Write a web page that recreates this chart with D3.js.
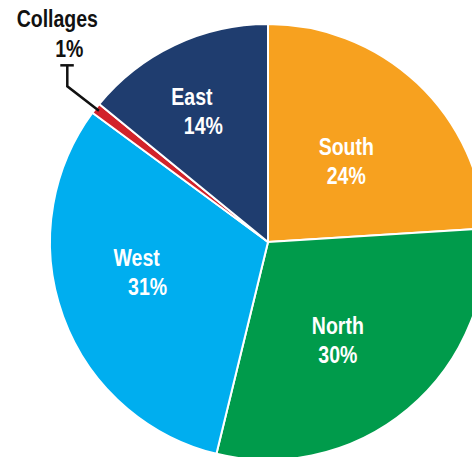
<!DOCTYPE html>
<html>
<head>
<meta charset="utf-8">
<script src="https://cdn.jsdelivr.net/npm/d3@7"></script>
<style>
  html, body { margin: 0; padding: 0; background: #fff; }
  svg { display: block; }
  text { font-family: "Liberation Sans", Arial, sans-serif; font-weight: bold; }
</style>
</head>
<body>
<div id="chart"></div>
<script>
      // data, clockwise from 12 o'clock
      var regions = ["South", "North", "West", "Collages", "East"];
      var shares = [24, 29.8, 31.3, 0.8, 14.1];  // labels show them rounded
      var sliceColors = ["#F7A11F", "#009B4B", "#00AEEF", "#D2232A", "#1F3D6F"];

      var w = 472;
      var h = 457;
      var cx = 268, cy = 242;
      var radius = 218;
      var squeeze = 0.83; // no condensed font installed, so narrow the regular one

      // hand tuned label spots: radius as fraction of pie radius, angle nudge (deg),
      // and how far the two lines are pushed apart sideways
      var labelLayout = {
        South: { r: 0.516, turn: 0.9, spread: 0 },
        North: { r: 0.552, turn: 4.5, spread: 0 },
        West:  { r: 0.594, turn: 6.4, spread: 5.5 },
        East:  { r: 0.681, turn: -2.9, spread: 5.7 }
      };

      var data = regions.map(function(d, i){
        return { name: d, value: shares[i], color: sliceColors[i] };
      });

      var pie = d3.pie()
                  .sort(null)
                  .value(function(d){ return d.value; });

      var arc = d3.arc()
                  .innerRadius(0)
                  .outerRadius(radius);

      var svg = d3.select("#chart")
                  .append("svg")
                  .attr("width", w)
                  .attr("height", h);

      var g = svg.append("g")
                 .attr("transform", "translate(" + cx + "," + cy + ")");

      var arcs = pie(data);

      g.selectAll("path")
          .data(arcs)
          .enter()
          .append("path")
          .attr("d", arc)
          .attr("fill", function(d){ return d.data.color; })
          .attr("stroke", "#fff")
          .attr("stroke-width", 2)
          .attr("stroke-linejoin", "round");

      // point on a ray (angle clockwise from top) at distance r
      function polar(angle, r){
        return [r * Math.sin(angle), -r * Math.cos(angle)];
      }

      // condensed bold text at x,y
      function label(parent, x, y, str, fill){
        parent.append("text")
            .attr("transform", "translate(" + x + "," + y + ") scale(" + squeeze + ",1)")
            .attr("text-anchor", "middle")
            .attr("font-size", "23.5px")
            .attr("fill", fill)
            .text(str);
      }

      arcs.forEach(function(d){
        var L = labelLayout[d.data.name];
        if (!L) return;
        var mid = (d.startAngle + d.endAngle) / 2 + L.turn * Math.PI / 180;
        var p = polar(mid, radius * L.r);
        label(g, p[0] - L.spread, p[1] - 6.3, d.data.name, "#fff");
        label(g, p[0] + L.spread, p[1] + 22.6, Math.round(d.data.value) + "%", "#fff");
      });

      // the tiny slice gets an outside callout with a leader line
      arcs.forEach(function(d){
        if (labelLayout[d.data.name]) return;
        var mid = (d.startAngle + d.endAngle) / 2;
        var a = polar(mid, radius - 4);
        var e = polar(mid, radius + 36);
        var topY = e[1] - 21;

        g.append("polyline")
            .attr("points", [a, e, [e[0], topY]].map(function(p){ return p.join(","); }).join(" "))
            .attr("fill", "none")
            .attr("stroke", "#111")
            .attr("stroke-width", 2.5);

        g.append("line")
            .attr("x1", e[0] - 7).attr("x2", e[0] + 6.5)
            .attr("y1", topY).attr("y2", topY)
            .attr("stroke", "#111")
            .attr("stroke-width", 2.5);

        label(g, e[0] + 2, topY - 8.3, Math.round(d.data.value) + "%", "#111");
        label(g, e[0] - 10, topY - 38.3, d.data.name, "#111");
      });
</script>
</body>
</html>
